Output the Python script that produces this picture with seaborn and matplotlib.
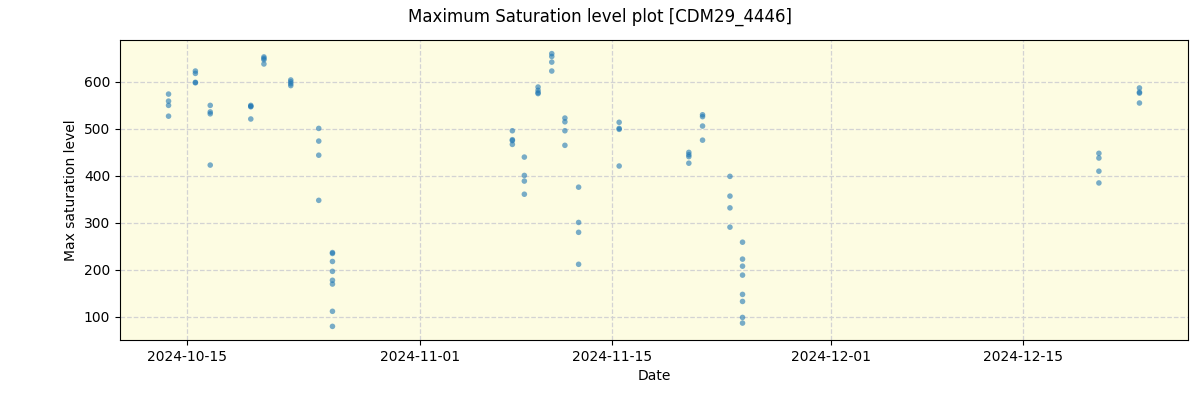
import matplotlib
matplotlib.use("Agg")
import matplotlib.pyplot as plt
import matplotlib.dates as mdates
import numpy as np
import pandas as pd
import seaborn as sns

# Observation timestamps per group and the values measured in each
group_dates = [
    "2024-10-13 16:00", "2024-10-15 15:00", "2024-10-16 17:00", "2024-10-19 16:00",
    "2024-10-20 15:00", "2024-10-22 14:00", "2024-10-24 15:00", "2024-10-25 15:00",
    "2024-11-07 18:00", "2024-11-08 15:00", "2024-11-09 15:00", "2024-11-10 15:00",
    "2024-11-11 14:00", "2024-11-12 14:00", "2024-11-15 13:00", "2024-11-20 15:00",
    "2024-11-21 15:00", "2024-11-23 15:00", "2024-11-24 13:00", "2024-12-20 13:00",
    "2024-12-23 12:00",
]
group_values = [
    [574, 559, 550, 527],
    [623, 618, 599, 598],
    [550, 536, 532, 423],
    [550, 548, 547, 521],
    [653, 650, 647, 638],
    [604, 600, 596, 592],
    [501, 474, 444, 348],
    [237, 235, 218, 197, 178, 170, 112, 80],
    [496, 477, 475, 467],
    [440, 401, 389, 361],
    [589, 582, 577, 575],
    [660, 654, 642, 623],
    [523, 515, 496, 465],
    [376, 301, 280, 212],
    [514, 501, 499, 421],
    [450, 445, 441, 427],
    [530, 526, 506, 476],
    [399, 357, 332, 291],
    [259, 223, 208, 189, 148, 133, 99, 87],
    [448, 438, 410, 385],
    [587, 578, 576, 555],
]

dates = []
values = []
for d, vals in zip(group_dates, group_values):
    for v in vals:
        dates.append(pd.Timestamp(d))
        values.append(v)

df = pd.DataFrame({"Date": dates, "Max saturation level": values})

fig, ax = plt.subplots(figsize=(12, 4), dpi=100)
ax.set_facecolor("#fdfce2")
sns.scatterplot(data=df, x="Date", y="Max saturation level", ax=ax,
                s=16, color="tab:blue", alpha=0.6, edgecolor="none", zorder=3)
ax.grid(True, linestyle="--", color="lightgray", linewidth=0.9, zorder=0)
ax.set_axisbelow(True)
ax.xaxis.set_major_locator(mdates.DayLocator(bymonthday=[1, 15]))
ax.xaxis.set_major_formatter(mdates.DateFormatter("%Y-%m-%d"))
ax.set_xlabel("Date")
ax.set_ylabel("Max saturation level")
fig.suptitle("Maximum Saturation level plot [CDM29_4446]")
fig.subplots_adjust(left=0.1, right=0.99, top=0.9, bottom=0.15)
fig.savefig("out.png")
